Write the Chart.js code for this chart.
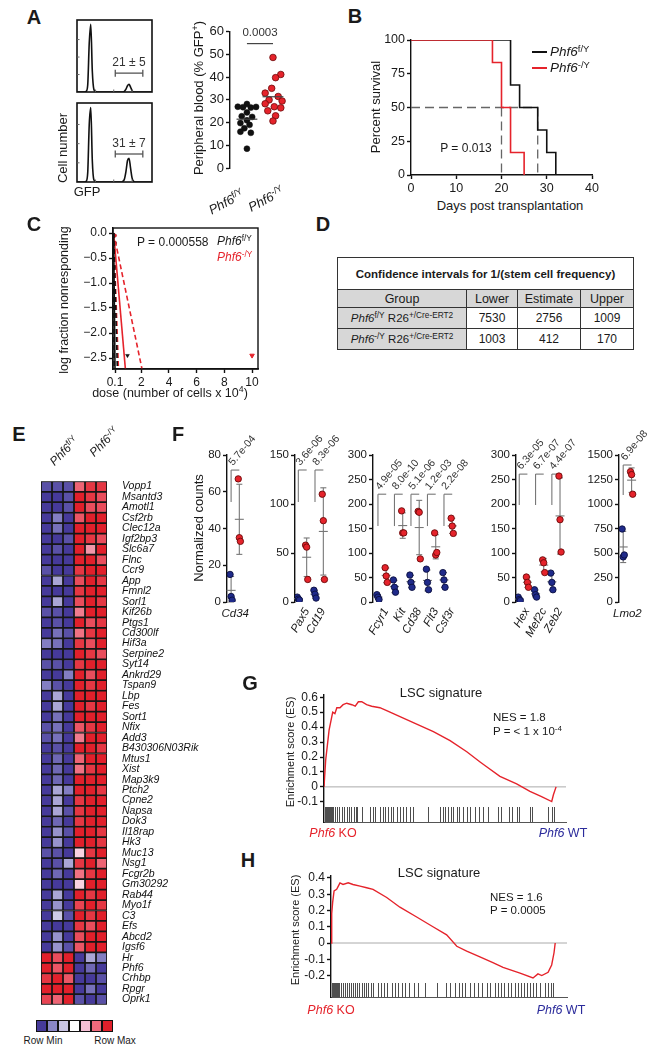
<!DOCTYPE html>
<html>
<head>
<meta charset="utf-8">
<script src="https://cdn.jsdelivr.net/npm/chart.js@4.4.1/dist/chart.umd.min.js"></script>
<style>
  body { margin: 0; background: #fff; }
  #fig { position: relative; width: 659px; height: 1050px; overflow: hidden; font-family: "Liberation Sans", Arial, Helvetica, sans-serif; color: #1a1a1a; }
  #fig canvas { position: absolute; }
  .t { position: absolute; white-space: nowrap; line-height: 1; }
  .t sup { font-size: 70%; vertical-align: 0.5em; line-height: 0; }
  .bar { position: absolute; height: 2px; }
  #ci { position: absolute; left: 337px; top: 257px; width: 297px; border-collapse: collapse; border: 1.5px solid #222; font-size: 12px; }
  #ci td { border: 1px solid #333; text-align: center; padding: 0; }
  #ci td sup { font-size: 72%; vertical-align: 0.45em; line-height: 0; }
  #ci .ttl { height: 31px; font-weight: bold; font-size: 11.5px; }
  #ci .hd td { background: #d7d7d7; height: 17px; font-size: 12.5px; }
  #ci .g { background: #d7d7d7; font-size: 11.5px; }
  #ci .row td { height: 20px; }
  .sw { position: absolute; top: 1020px; width: 11px; height: 12px; box-sizing: border-box; border: 1px solid #111; }
</style>
</head>
<body>
<div id="fig"></div>
<script>
// ---------------- data ----------------
// A: GFP histograms (cell counts per bin) and peripheral blood % GFP+
const gfpTop    = [0,0,0,0,0,0,1,10,70,97,30,4,1,0,0,0,0,0,0,0,0,0,0,0,0,0,0,0,0,0,0,1,4,9,11,7,2,0,0,0,0,0,0,0,0,0,0,0,0,0];
const gfpBottom = [0,0,0,0,0,0,1,12,75,97,28,3,1,0,0,0,0,0,0,0,0,0,0,0,0,0,0,0,0,0,1,4,14,28,31,18,5,1,0,0,0,0,0,0,0,0,0,0,0,0];
const pbFlox    = [28.2, 27.0, 26.8, 26.6, 26.9, 24.5, 22.8, 22.5, 21.0, 19.8, 19.0, 17.5, 16.0, 15.5, 8.5];
const pbFloxDx  = [0, -0.35, -0.15, 0.15, 0.35, 0, -0.2, 0.2, 0, -0.25, 0.1, -0.1, -0.25, 0.15, 0];
const pbKo      = [48.7, 41.2, 39.8, 35.1, 33.0, 31.5, 30.0, 29.5, 28.3, 27.0, 26.5, 25.2, 23.0, 20.7];
const pbKoDx    = [0, 0.3, 0.1, -0.05, -0.3, 0.2, -0.15, 0.35, -0.3, 0.05, 0.3, -0.2, 0.1, 0];

// B: Kaplan-Meier survival
const kmFloxDays = [0, 22, 24, 28, 30, 32];
const kmFloxPct  = [100, 66.7, 50, 33.3, 16.7, 0];
const kmKoDays   = [0, 18, 20, 22, 25];
const kmKoPct    = [100, 83.3, 50, 16.7, 0];
const medianFlox = 28, medianKo = 20;

// C: limiting dilution (dose x 10^4, log fraction nonresponding)
const ldaFloxFit = [[0, 0], [0.1, -2.72]];
const ldaFloxLo  = [[0, 0], [0.04, -2.72]];
const ldaFloxHi  = [[0, 0], [0.27, -2.72]];
const ldaKoFit   = [[0, 0], [0.85, -2.72]];
const ldaKoLo    = [[0, 0], [0.35, -2.72]];
const ldaKoHi    = [[0, 0], [2.05, -2.72]];
const ldaFloxPts = [[0.1, -0.2], [0.1, -0.68]];
const ldaKoPts   = [[0.1, -0.05]];
const ldaFloxAll = [[1, -2.45]];
const ldaKoAll   = [[10, -2.45]];

// D: confidence intervals
const ciLower = [7530, 1003], ciEstimate = [2756, 412], ciUpper = [1009, 170];

// E: heatmap (row scaled 0 = row min, 1 = row max)
const heatGenes = ['Vopp1','Msantd3','Amotl1','Csf2rb','Clec12a','Igf2bp3','Slc6a7','Flnc','Ccr9','App','Fmnl2','Sorl1','Kif26b','Ptgs1','Cd300lf','Hif3a','Serpine2','Syt14','Ankrd29','Tspan9','Lbp','Fes','Sort1','Nfix','Add3','B430306N03Rik','Mtus1','Xist','Map3k9','Ptch2','Cpne2','Napsa','Dok3','Il18rap','Hk3','Muc13','Nsg1','Fcgr2b','Gm30292','Rab44','Myo1f','C3','Efs','Abcd2','Igsf6','Hr','Phf6','Crhbp','Rpgr','Oprk1'];
const heatExpr = [
  [0.05,0.05,0.05,0.85,0.95,0.95],[0,0,0.05,1,0.95,0.9],[0,0,0.05,1,0.9,0.9],[0,0.15,0,0.88,1,1],
  [0,0.12,0,1,1,1],[0,0,0.05,1,0.95,0.9],[0,0.05,0,1,0.75,1],[0,0,0,1,1,0.9],
  [0.05,0,0,0.95,1,1],[0,0.25,0,0.9,1,0.95],[0,0,0,0.95,1,1],[0,0.25,0,0.9,1,0.95],
  [0.05,0.05,0,0.8,1,1],[0,0.05,0,1,0.9,0.95],[0,0.12,0.05,0.82,0.95,1],[0.15,0.12,0,0.95,0.9,1],
  [0,0,0,1,0.95,0.9],[0.05,0.05,0,0.95,1,1],[0,0,0.15,1,0.9,1],[0.15,0.05,0,1,0.95,1],
  [0,0.25,0,1,1,1],[0,0.25,0,1,0.95,1],[0,0.12,0,1,1,1],[0.05,0.12,0,0.88,0.95,1],
  [0.05,0.12,0,0.8,1,1],[0,0.05,0,1,1,0.95],[0,0.1,0,0.85,1,1],[0,0.1,0,0.82,0.95,1],
  [0,0.1,0,1,1,1],[0,0.25,0.15,1,1,0.95],[0,0.25,0,0.95,1,1],[0,0.25,0.05,0.95,1,1],
  [0,0.1,0,0.95,1,1],[0,0.2,0.05,1,1,0.95],[0,0.2,0,1,1,0.95],[0.05,0.05,0,0.62,0.95,1],
  [0,0.05,0.25,0.95,1,0.85],[0,0.1,0,0.82,0.95,1],[0,0,0,0.62,1,1],[0,0.25,0,1,0.95,1],
  [0,0.2,0,0.92,1,0.95],[0,0.35,0.05,1,0.95,1],[0,0,0,0.95,0.9,1],[0,0.2,0,0.9,1,1],
  [0,0.2,0.05,0.88,1,1],[1,0.9,1,0,0.25,0.15],[1,0.88,1,0,0.1,0],[0.95,1,0.88,0,0,0.05],
  [1,1,1,0,0.12,0],[0.92,0.85,1,0.05,0,0.05]
];
const heatStops = ['#463a9a', '#8a86c6', '#c9c5e4', '#ffffff', '#f6c1d6', '#ef6b7c', '#e1202b'];

// F: normalized counts (3 replicates per genotype)
const fGenes1 = ['Cd34'];
const fBlue1 = [[15, 3, 1]];
const fRed1  = [[67, 35, 33]];
const fP1    = ['5.7e-04'];
const fGenes2 = ['Pax5', 'Cd19'];
const fBlue2 = [[5, 3, 2], [12, 8, 4]];
const fRed2  = [[58, 56, 23], [110, 83, 23]];
const fP2    = ['3.6e-06', '8.3e-06'];
const fGenes3 = ['Fcyr1', 'Kit', 'Cd38', 'Flt3', 'Csf3r'];
const fBlue3 = [[15, 10, 5], [45, 30, 20], [55, 40, 30], [67, 40, 25], [60, 45, 30]];
const fRed3  = [[70, 53, 40], [186, 141, 141], [185, 183, 88], [141, 96, 101], [171, 155, 140]];
const fP3    = ['4.9e-05', '8.0e-10', '5.1e-06', '1.2e-03', '2.2e-08'];
const fGenes4 = ['Hex', 'Mef2c', 'Zeb2'];
const fBlue4 = [[10, 5, 3], [25, 15, 10], [59, 40, 25]];
const fRed4  = [[51, 40, 30], [86, 80, 60], [257, 168, 102]];
const fP4    = ['6.3e-05', '6.7e-07', '4.4e-07'];
const fGenes5 = ['Lmo2'];
const fBlue5 = [[745, 460, 480]];
const fRed5  = [[1330, 1300, 1100]];
const fP5    = ['6.9e-08'];
const jitter = [-0.13, 0, 0.13];

// G / H: GSEA running enrichment score and hit ranks (% of ranked list)
const gRank = [0,0.7,1.4,2.1,3.6,4.5,5.3,6.6,7.9,9.4,11.5,12.9,14.2,15.6,17.6,19.7,23.1,25.9,31.4,38.3,45.2,52.1,59.0,64.5,67.2,72.7,79.6,85.1,89.9,94.1,94.8,95.9];
const gES   = [0,0.18,0.28,0.38,0.50,0.49,0.53,0.53,0.55,0.56,0.55,0.54,0.57,0.57,0.55,0.54,0.53,0.51,0.47,0.42,0.37,0.31,0.235,0.167,0.135,0.07,0.02,-0.03,-0.065,-0.098,-0.053,0];
const gHits = [0.4,0.8,1.2,1.7,2.1,2.5,2.9,3.3,3.7,4.5,5.4,6.2,7.4,8.3,9.5,10.3,11.2,12.4,13.2,13.6,15.7,19.0,20.2,21.1,23.1,24.4,25.2,26.4,27.7,28.5,30.2,31.4,32.6,33.9,35.5,36.8,43.0,47.9,49.2,50.0,51.2,52.5,53.3,55.0,55.8,57.4,59.1,60.3,62.4,64.0,65.7,67.8,71.9,73.1,76.4,77.7,79.8,80.6,85.1,86.0,92.6,94.2,95.0];
const hRank = [0,0.3,0.7,1.3,2.4,3.1,3.8,5.1,7.3,9.3,12.3,15.1,17.8,23.6,29.2,36.3,43.2,49.0,53.3,57.5,63.1,68.6,72.9,80.1,85.6,87.7,89.3,92.0,93.5,94.5,95.0];
const hES   = [0,0.18,0.25,0.32,0.33,0.35,0.37,0.36,0.37,0.36,0.35,0.34,0.33,0.28,0.22,0.16,0.10,0.05,-0.02,-0.05,-0.085,-0.12,-0.15,-0.185,-0.215,-0.19,-0.2,-0.18,-0.135,-0.06,0];
const hHits = [0.4,0.8,1.3,1.7,2.1,2.5,3.0,3.4,4.2,5.1,5.9,6.8,7.6,8.5,9.3,10.2,11.0,11.9,13.1,14.0,14.8,15.7,16.9,17.8,19.9,21.2,22.5,23.7,25.8,27.1,28.4,30.1,31.4,33.1,35.2,36.9,39.8,44.9,48.7,50.4,52.5,54.2,55.5,56.8,58.9,60.6,62.3,64.0,66.1,67.4,69.5,70.8,72.0,73.3,75.0,76.3,78.0,79.2,80.5,81.8,83.1,84.3,85.6,86.9,88.6,90.7,91.9,93.2,94.1];

// ---------------- helpers ----------------
const FONT = '"Liberation Sans", Arial, Helvetica, sans-serif';
Chart.defaults.font.family = FONT;
Chart.defaults.color = '#1a1a1a';
const RED = '#e5232b', BLUE = '#1f2a8a', WT = '#2b2b9b';
const fig = document.getElementById('fig');

function mount(area, cfg, o = {}) {
  const yW = o.yW ?? 60, xH = o.xH ?? 40, padT = o.padT ?? 14, padR = o.padR ?? 30;
  const c = document.createElement('canvas');
  const W = area.r - area.l + yW + padR, H = area.b - area.t + padT + xH;
  c.width = W; c.height = H;
  c.style.left = (area.l - yW) + 'px'; c.style.top = (area.t - padT) + 'px';
  c.style.width = W + 'px'; c.style.height = H + 'px';
  fig.appendChild(c);
  const sc = cfg.options.scales;
  const pad = { left: 0, right: padR, top: padT, bottom: 0 };
  if (sc.y.display === false) pad.left = yW; else sc.y.afterFit = s => { s.width = yW; };
  if (sc.x.display === false) pad.bottom = xH; else sc.x.afterFit = s => { s.height = xH; };
  cfg.options.layout = { padding: pad };
  cfg.options.responsive = false;
  cfg.options.animation = false;
  cfg.options.events = [];
  cfg.options.plugins = Object.assign({ legend: { display: false }, tooltip: { enabled: false } }, cfg.options.plugins || {});
  return new Chart(c, cfg);
}

function axis(min, max, ticks, o = {}) {
  return {
    type: 'linear', min, max, display: o.display ?? true,
    border: { display: true, color: o.lineColor || '#111', width: o.lineWidth || 1.4 },
    grid: { display: true, drawOnChartArea: false, drawTicks: o.drawTicks ?? true, tickLength: 4, tickColor: '#111', tickWidth: 1.4 },
    ticks: { display: o.showLabels ?? true, color: '#1a1a1a', font: { size: o.size || 12 }, padding: 2, autoSkip: false, maxRotation: 0,
             callback: o.fmt || (v => String(v)) },
    afterBuildTicks: s => { s.ticks = ticks.map(v => ({ value: v })); }
  };
}
const hidden = (min, max) => ({ type: 'linear', min, max, display: false });
const pts = (xs, ys) => xs.map((x, i) => ({ x, y: ys[i] }));
const pairs = a => a.map(([x, y]) => ({ x, y }));
const mean = a => a.reduce((s, v) => s + v, 0) / a.length;
const sd = a => { const m = mean(a); return Math.sqrt(a.reduce((s, v) => s + (v - m) ** 2, 0) / (a.length - 1)); };

function seg(ctx, x0, y0, x1, y1) { ctx.beginPath(); ctx.moveTo(x0, y0); ctx.lineTo(x1, y1); ctx.stroke(); }
function frame(ch, lw) {
  const { ctx, chartArea: a } = ch;
  ctx.save(); ctx.strokeStyle = '#111'; ctx.lineWidth = lw || 1.4;
  ctx.strokeRect(a.left, a.top, a.right - a.left, a.bottom - a.top); ctx.restore();
}

function label(html, x, y, o = {}) {
  const d = document.createElement('div');
  d.className = 't';
  d.innerHTML = html;
  const ax = o.align === 'l' ? '0' : o.align === 'r' ? '-100%' : '-50%';
  d.style.left = x + 'px'; d.style.top = y + 'px';
  d.style.transformOrigin = o.align === 'l' ? '0 50%' : o.align === 'r' ? '100% 50%' : '50% 50%';
  d.style.transform = `translate(${ax},-50%)` + (o.rot ? ` rotate(${o.rot}deg)` : '');
  d.style.fontSize = (o.size || 12) + 'px';
  if (o.color) d.style.color = o.color;
  if (o.bold) d.style.fontWeight = 'bold';
  if (o.italic) d.style.fontStyle = 'italic';
  fig.appendChild(d);
}

function hexMix(a, b, f) {
  const p = h => [1, 3, 5].map(i => parseInt(h.substr(i, 2), 16));
  const A = p(a), B = p(b);
  return 'rgb(' + A.map((v, i) => Math.round(v + (B[i] - v) * f)).join(',') + ')';
}
function heatColor(v) {
  const q = v * (heatStops.length - 1), i = Math.min(heatStops.length - 2, Math.floor(q));
  return hexMix(heatStops[i], heatStops[i + 1], q - i);
}

// ---------------- A: histograms ----------------
function histChart(area, counts, gateY) {
  mount(area, {
    type: 'line',
    data: { datasets: [{ data: counts.map((v, i) => ({ x: i, y: v })), borderColor: '#111', borderWidth: 1.6, pointRadius: 0, cubicInterpolationMode: 'monotone' }] },
    options: { scales: { x: hidden(0, 49), y: hidden(0, 103) } },
    plugins: [{ id: 'box', afterDatasetsDraw(ch) {
      frame(ch, 1.6);
      const { ctx, scales: { x, y }, chartArea: a } = ch;
      ctx.save(); ctx.strokeStyle = '#555'; ctx.lineWidth = 1.3;
      const yy = y.getPixelForValue(gateY), x0 = x.getPixelForValue(25), x1 = x.getPixelForValue(43);
      seg(ctx, x0, yy, x1, yy); seg(ctx, x0, yy - 3.5, x0, yy + 3.5); seg(ctx, x1, yy - 3.5, x1, yy + 3.5);
      // small inner tick marks on the frame
      ctx.strokeStyle = '#666'; ctx.lineWidth = 1;
      [25, 50, 75].forEach(v => { const py = y.getPixelForValue(v); seg(ctx, a.left, py, a.left + 2.5, py); });
      [12, 24, 36].forEach(v => { const px = x.getPixelForValue(v); seg(ctx, px, a.bottom, px, a.bottom - 2.5); });
      ctx.restore();
    } }]
  }, { yW: 10, xH: 10, padT: 4, padR: 10 });
}
histChart({ l: 77, t: 20, r: 152, b: 92 }, gfpTop, 27);
histChart({ l: 77, t: 103, r: 152, b: 182 }, gfpBottom, 36.5);

// A: dot plot
mount({ l: 230, t: 30, r: 292, b: 168 }, {
  type: 'scatter',
  data: { datasets: [
    { data: pbKo.map((v, i) => ({ x: 2 + pbKoDx[i], y: v })), backgroundColor: RED, borderColor: '#6b0a0a', borderWidth: 0.8, pointRadius: 3.3 },
    { data: pbFlox.map((v, i) => ({ x: 1 + pbFloxDx[i], y: v })), backgroundColor: '#111', borderColor: '#111', borderWidth: 0.5, pointRadius: 3.0 }
  ] },
  options: { scales: { x: hidden(0.35, 2.73), y: axis(0, 60, [0, 10, 20, 30, 40, 50, 60], { size: 13 }) } },
  plugins: [{ id: 'means', afterDatasetsDraw(ch) {
    const { ctx, scales: { x, y } } = ch;
    ctx.save(); ctx.strokeStyle = '#444'; ctx.lineWidth = 1.2;
    [[1, pbFlox], [2, pbKo]].forEach(([g, arr]) => {
      const yy = y.getPixelForValue(mean(arr));
      seg(ctx, x.getPixelForValue(g - 0.4), yy, x.getPixelForValue(g + 0.4), yy);
    });
    const yp = y.getPixelForValue(54.8);
    seg(ctx, x.getPixelForValue(1), yp, x.getPixelForValue(2), yp);
    ctx.restore();
  } }]
}, { yW: 40, xH: 20, padT: 8, padR: 10 });

// ---------------- B: survival ----------------
mount({ l: 411, t: 40, r: 592, b: 175 }, {
  type: 'scatter',
  data: { datasets: [
    { data: pts(kmKoDays, kmKoPct), showLine: true, stepped: 'before', borderColor: RED, borderWidth: 1.6, pointRadius: 0 },
    { data: pts(kmFloxDays, kmFloxPct), showLine: true, stepped: 'before', borderColor: '#111', borderWidth: 1.6, pointRadius: 0 },
    { data: [{ x: 0, y: 50 }, { x: medianFlox, y: 50 }], showLine: true, borderColor: '#666', borderWidth: 1.3, borderDash: [9, 5], pointRadius: 0 },
    { data: [{ x: medianKo, y: 50 }, { x: medianKo, y: 0 }], showLine: true, borderColor: '#666', borderWidth: 1.3, borderDash: [9, 5], pointRadius: 0 },
    { data: [{ x: medianFlox, y: 50 }, { x: medianFlox, y: 0 }], showLine: true, borderColor: '#666', borderWidth: 1.3, borderDash: [9, 5], pointRadius: 0 }
  ] },
  options: { scales: {
    x: axis(0, 40, [0, 10, 20, 30, 40], { size: 12.5 }),
    y: axis(0, 100, [0, 25, 50, 75, 100], { size: 12.5 })
  } }
}, { yW: 40, xH: 22 });

// ---------------- C: limiting dilution ----------------
const minus = v => (v < 0 ? '\u2212' : '') + Math.abs(v).toFixed(1);
const lineDs = (arr, color, dash) => ({ data: pairs(arr), showLine: true, borderColor: color, borderWidth: 1.6, borderDash: dash || [], pointRadius: 0 });
mount({ l: 113, t: 228, r: 258, b: 369 }, {
  type: 'scatter',
  data: { datasets: [
    lineDs(ldaFloxFit, '#111'), lineDs(ldaFloxLo, '#111', [5, 3]), lineDs(ldaFloxHi, '#111', [5, 3]),
    lineDs(ldaKoFit, RED), lineDs(ldaKoLo, RED, [5, 3]), lineDs(ldaKoHi, RED, [5, 3]),
    { data: pairs(ldaFloxPts), backgroundColor: '#111', pointRadius: 1.8 },
    { data: pairs(ldaKoPts), backgroundColor: RED, pointRadius: 1.8 },
    { data: pairs(ldaFloxAll), backgroundColor: '#111', pointStyle: 'triangle', rotation: 180, pointRadius: 2.6 },
    { data: pairs(ldaKoAll), backgroundColor: RED, borderColor: RED, pointStyle: 'triangle', rotation: 180, pointRadius: 2.6 }
  ] },
  options: { scales: {
    x: axis(-0.045, 10.43, [0.1, 2, 4, 6, 8, 10], { size: 12 }),
    y: axis(-2.72, 0.1, [0, -0.5, -1, -1.5, -2, -2.5], { size: 12, fmt: minus })
  } },
  plugins: [{ id: 'box', afterDatasetsDraw(ch) { frame(ch, 1.4); } }]
}, { yW: 40, xH: 22 });

// ---------------- D: table ----------------
(function () {
  const groups = ['<i>Phf6</i><sup>f/Y</sup> R26<sup>+/Cre-ERT2</sup>', '<i>Phf6</i><sup>-/Y</sup> R26<sup>+/Cre-ERT2</sup>'];
  let h = '<tr><td colspan="4" class="ttl">Confidence intervals for 1/(stem cell frequency)</td></tr>' +
          '<tr class="hd"><td style="width:128px">Group</td><td style="width:50px">Lower</td><td style="width:62px">Estimate</td><td>Upper</td></tr>';
  groups.forEach((g, i) => {
    h += `<tr class="row"><td class="g">${g}</td><td>${ciLower[i]}</td><td>${ciEstimate[i]}</td><td>${ciUpper[i]}</td></tr>`;
  });
  const t = document.createElement('table'); t.id = 'ci'; t.innerHTML = h; fig.appendChild(t);
})();

// ---------------- E: heatmap ----------------
(function () {
  const area = { l: 41, t: 472, r: 107, b: 1014 };
  const c = document.createElement('canvas');
  const W = 214 - 36, H = area.b - area.t + 8;
  c.width = W; c.height = H; c.style.left = '36px'; c.style.top = (area.t - 4) + 'px';
  c.style.width = W + 'px'; c.style.height = H + 'px';
  fig.appendChild(c);
  new Chart(c, {
    type: 'bar',
    data: {
      labels: heatGenes,
      datasets: [0, 1, 2, 3, 4, 5].map(j => ({
        data: heatGenes.map(() => 1),
        backgroundColor: heatExpr.map(r => heatColor(r[j])),
        borderColor: '#161616', borderWidth: 1.2, borderSkipped: false,
        barPercentage: 1, categoryPercentage: 1
      }))
    },
    options: {
      indexAxis: 'y', responsive: false, animation: false, events: [],
      layout: { padding: { left: 5, right: 0, top: 4, bottom: 4 } },
      plugins: { legend: { display: false }, tooltip: { enabled: false } },
      scales: {
        x: { stacked: true, min: 0, max: 6, display: false },
        y: { stacked: true, position: 'right', grid: { display: false }, border: { display: false },
             ticks: { padding: 7, color: '#111', font: { size: 10.5, style: 'italic' }, autoSkip: false },
             afterFit: s => { s.width = W - 5 - (area.r - area.l); } }
      }
    }
  });
  heatStops.forEach((col, i) => {
    const d = document.createElement('div'); d.className = 'sw';
    d.style.left = (36 + i * 11) + 'px'; d.style.background = col; fig.appendChild(d);
  });
})();

// ---------------- F: normalized counts ----------------
function fPanel(area, xr, ymax, yticks, genes, blue, red, pv, brk) {
  const mk = (groups, off, fill, edge) => ({
    data: groups.flatMap((vals, i) => vals.map((v, k) => ({ x: i + off + jitter[k] * 0.5, y: v }))),
    backgroundColor: fill, borderColor: edge, borderWidth: 0.9, pointRadius: 3.2
  });
  mount(area, {
    type: 'scatter',
    data: { datasets: [mk(red, 0.5, RED, '#6b0a0a'), mk(blue, 0, BLUE, '#0b1040')] },
    options: { scales: { x: hidden(xr[0], xr[1]), y: axis(0, ymax, yticks, { size: 11.5 }) } },
    plugins: [{ id: 'err', beforeDatasetsDraw(ch) {
      const { ctx, scales: { x, y }, chartArea: a } = ch;
      ctx.save(); ctx.strokeStyle = '#777'; ctx.lineWidth = 1.1;
      genes.forEach((g, i) => {
        [[blue[i], i], [red[i], i + 0.5]].forEach(([vals, xv]) => {
          const m = mean(vals), s = sd(vals), px = x.getPixelForValue(xv);
          const yT = y.getPixelForValue(m + s), yB = Math.min(a.bottom, y.getPixelForValue(m - s)), yM = y.getPixelForValue(m);
          seg(ctx, px, yT, px, yB); seg(ctx, px - 3, yT, px + 3, yT); seg(ctx, px - 3, yB, px + 3, yB); seg(ctx, px - 4.5, yM, px + 4.5, yM);
        });
        const bx0 = x.getPixelForValue(i), bx1 = x.getPixelForValue(i + 0.5);
        const bt = y.getPixelForValue(brk[0]), bb = y.getPixelForValue(brk[1]);
        seg(ctx, bx0, bb, bx0, bt); seg(ctx, bx0, bt, bx1, bt);
        ctx.save(); ctx.translate(bx0 + 2, bt - 4); ctx.rotate(-50 * Math.PI / 180);
        ctx.fillStyle = '#333'; ctx.font = '10.5px ' + FONT; ctx.fillText(pv[i], 0, 0); ctx.restore();
      });
      ctx.restore();
    } }]
  }, { yW: 40, xH: 10, padT: 60, padR: 20 });
}
fPanel({ l: 227, t: 455, r: 250, b: 602 }, [-0.25, 1.15], 80, [0, 20, 40, 60, 80], fGenes1, fBlue1, fRed1, fP1, [71.8, 54.4]);
fPanel({ l: 295, t: 455, r: 330, b: 602 }, [-0.2, 1.9], 150, [0, 50, 100, 150], fGenes2, fBlue2, fRed2, fP2, [134.7, 102]);
fPanel({ l: 373, t: 455, r: 458, b: 602 }, [-0.3, 4.85], 300, [0, 50, 100, 150, 200, 250, 300], fGenes3, fBlue3, fRed3, fP3, [220, 155]);
fPanel({ l: 516, t: 455, r: 568, b: 602 }, [-0.2, 2.99], 300, [0, 50, 100, 150, 200, 250, 300], fGenes4, fBlue4, fRed4, fP4, [261, 198]);
fPanel({ l: 619, t: 455, r: 640, b: 602 }, [-0.25, 1.0], 1500, [0, 250, 500, 750, 1000, 1250, 1500], fGenes5, fBlue5, fRed5, fP5, [1398, 1092]);

// ---------------- G / H: GSEA ----------------
function gsea(area, ymin, ymax, yticks, rank, es, hits, band) {
  mount(area, {
    type: 'scatter',
    data: { datasets: [{ data: pts(rank, es), showLine: true, borderColor: RED, borderWidth: 1.4, pointRadius: 0 }] },
    options: { scales: {
      x: axis(0, 100, [], { showLabels: false, drawTicks: false, lineColor: '#555', lineWidth: 1 }),
      y: axis(ymin, ymax, yticks, { size: 12, fmt: v => (v === 0 ? '0' : v.toFixed(1)) })
    } },
    plugins: [{ id: 'hits', beforeDatasetsDraw(ch) {
      const { ctx, scales: { x, y }, chartArea: a } = ch;
      ctx.save();
      ctx.strokeStyle = '#aaa'; ctx.lineWidth = 1;
      const y0 = y.getPixelForValue(0); seg(ctx, a.left, y0, a.right, y0);
      ctx.strokeStyle = '#3a3a3a'; ctx.lineWidth = 0.9;
      hits.forEach(r => { const px = Math.round(x.getPixelForValue(r)) + 0.5; seg(ctx, px, a.bottom - band, px, a.bottom); });
      ctx.restore();
    } }]
  }, { yW: 40, xH: 12 });
}
gsea({ l: 324, t: 695, r: 566, b: 822 }, -0.235, 0.615, [0.6, 0.5, 0.4, 0.3, 0.2, 0.1, 0, -0.1], gRank, gES, gHits, 15);
gsea({ l: 331, t: 876, r: 567, b: 997 }, -0.332, 0.412, [0.4, 0.3, 0.2, 0.1, 0, -0.1, -0.2], hRank, hES, hHits, 14);

// ---------------- text ----------------
const P6 = '<i>Phf6</i>';
[['A', 34, 17], ['B', 355, 16], ['C', 34, 224], ['D', 323, 224], ['E', 19, 434], ['F', 178, 434], ['G', 250, 683], ['H', 248, 860]]
  .forEach(([s, x, y]) => label(s, x, y, { size: 20, bold: true }));

label('21 &plusmn; 5', 129, 62, { size: 12, color: '#333' });
label('31 &plusmn; 7', 129, 143, { size: 12, color: '#333' });
label('Cell number', 62, 148, { size: 13, rot: -90 });
label('GFP', 87, 191, { size: 13 });
label('Peripheral blood (% GFP<sup>+</sup>)', 198, 98, { size: 13, rot: -90 });
label('0.0003', 260, 33, { size: 11.5, color: '#333' });
label(P6 + '<sup>f/Y</sup>', 243, 193, { size: 13, align: 'r', rot: -28 });
label(P6 + '<sup>-/Y</sup>', 283, 190, { size: 13, align: 'r', rot: -28 });

label('Percent survival', 375, 107, { size: 13, rot: -90 });
label('Days post transplantation', 510, 205, { size: 13 });
label('P = 0.013', 466, 148, { size: 12 });
label(P6 + '<sup>f/Y</sup>', 550, 52, { size: 13.5, align: 'l' });
label(P6 + '<sup>-/Y</sup>', 550, 68, { size: 13.5, align: 'l' });
[['#111', 51], [RED, 67]].forEach(([col, y]) => {
  const d = document.createElement('div'); d.className = 'bar';
  d.style.cssText += `left:532px;top:${y}px;width:15px;background:${col}`; fig.appendChild(d);
});

label('P = 0.000558', 137, 242, { size: 12, align: 'l' });
label(P6 + '<sup>f/Y</sup>', 217, 241, { size: 12, align: 'l' });
label(P6 + '<sup>-/Y</sup>', 217, 257, { size: 12, align: 'l', color: RED });
label('log fraction nonresponding', 64, 300, { size: 12.5, rot: -90 });
label('dose (number of cells x 10<sup>4</sup>)', 170, 393, { size: 12.5 });

label(P6 + '<sup>f/Y</sup>', 64, 451, { size: 12, rot: -45 });
label(P6 + '<sup>-/Y</sup>', 104, 442, { size: 12, rot: -45 });
label('Row Min', 43, 1041, { size: 10 });
label('Row Max', 115, 1041, { size: 10 });

label('Normalized counts', 198, 528, { size: 13, rot: -90 });
const fLabelRot = { Cd34: 0, Lmo2: 0 };
[[fGenes1, 227, [-0.25, 1.15], 23], [fGenes2, 295, [-0.2, 1.9], 35], [fGenes3, 373, [-0.3, 4.85], 85], [fGenes4, 516, [-0.2, 2.99], 52], [fGenes5, 619, [-0.25, 1.0], 21]]
  .forEach(([genes, l, xr, w]) => genes.forEach((g, i) => {
    const px = l + (i + 0.25 - xr[0]) / (xr[1] - xr[0]) * w;
    if (g in fLabelRot) label(g, px, 614, { size: 11.5, italic: true });
    else label(g, px + 4, 609, { size: 11.5, italic: true, align: 'r', rot: -60 });
  }));

label('LSC signature', 441, 692, { size: 13 });
label('NES = 1.8', 493, 718, { size: 11.5, align: 'l' });
label('P = &lt; 1 x 10<sup>-4</sup>', 493, 732, { size: 11.5, align: 'l' });
label('Enrichment score (ES)', 290, 752, { size: 11, rot: -90 });
label(P6 + ' KO', 333, 833, { size: 12.5, color: RED });
label(P6 + ' WT', 563, 833, { size: 12.5, color: WT });

label('LSC signature', 439, 872, { size: 13 });
label('NES = 1.6', 490, 898, { size: 11.5, align: 'l' });
label('P = 0.0005', 490, 911, { size: 11.5, align: 'l' });
label('Enrichment score (ES)', 295, 930, { size: 11, rot: -90 });
label(P6 + ' KO', 331, 1010, { size: 12.5, color: RED });
label(P6 + ' WT', 561, 1010, { size: 12.5, color: WT });
</script>
</body>
</html>
